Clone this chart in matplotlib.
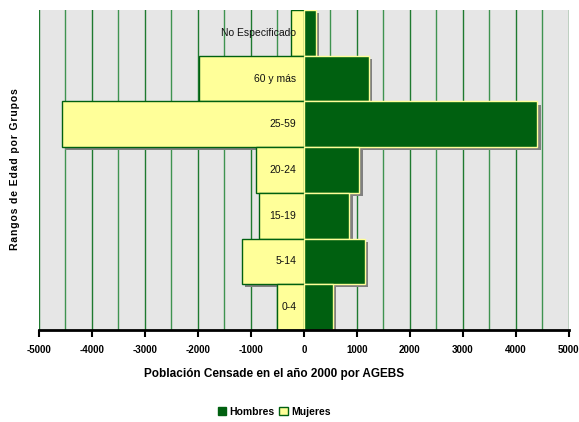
import matplotlib
matplotlib.use("Agg")
import matplotlib.pyplot as plt
import matplotlib.patheffects as pe
from matplotlib.patches import Patch
import numpy as np

# Age groups, bottom to top
grupos = ["0-4", "5-14", "15-19", "20-24", "25-59", "60 y más", "No Especificado"]
hombres = [550, 1160, 860, 1050, 4410, 1230, 230]
mujeres = [510, 1170, 840, 910, 4570, 1970, 250]

ticks = [-5000, -4000, -3000, -2000, -1000, 0, 1000, 2000, 3000, 4000, 5000]

plt.rcParams["font.family"] = ["Liberation Sans Narrow", "Liberation Sans", "DejaVu Sans"]

VERDE = "#006010"
AMARILLO = "#ffff99"
GRID = "#1f7a30"

fig = plt.figure(figsize=(5.79, 4.22), dpi=100)
ax = fig.add_axes([39 / 579, 1 - 330 / 422, (568.7 - 39) / 579, (330 - 10) / 422])
ax.set_facecolor("#e6e6e6")

y = np.arange(len(grupos))
sombra = [pe.SimplePatchShadow(offset=(2.3, -2.3), shadow_rgbFace="#808080", alpha=1.0), pe.Normal()]

# Draw bars from the top group down so lower bars sit over upper shadows
for i in reversed(range(len(grupos))):
    bm = ax.barh(y[i], -mujeres[i], height=1.0, color=AMARILLO, edgecolor=VERDE,
                 linewidth=1.0, zorder=3 + (len(grupos) - i) * 0.1)
    bh = ax.barh(y[i], hombres[i], height=1.0, color=VERDE, edgecolor=AMARILLO,
                 linewidth=1.0, zorder=3 + (len(grupos) - i) * 0.1 + 0.05)
    for b in list(bm) + list(bh):
        b.set_path_effects(sombra)
    ax.text(-140, y[i], grupos[i], ha="right", va="center", fontsize=7.5,
            color="#111111", zorder=10)

ax.set_xlim(-5000, 5000)
ax.set_ylim(-0.5, len(grupos) - 0.5)

for xv in np.arange(-5000, 5001, 500):
    ax.axvline(xv, color=GRID if xv % 1000 == 0 else "#3f9350", linewidth=1.0, zorder=1)

ax.set_xticks(ticks)
ax.set_xticklabels([str(t) for t in ticks], fontsize=7, fontweight="bold")
ax.set_yticks([])
for s in ["top", "left", "right"]:
    ax.spines[s].set_visible(False)
ax.spines["bottom"].set_linewidth(2.0)
ax.spines["bottom"].set_color("black")
ax.spines["bottom"].set_zorder(20)
ax.tick_params(axis="x", direction="out", length=5, width=1.5, pad=6)

fig.text(274 / 579, 1 - 374 / 422, "Población Censade en el año 2000 por AGEBS",
         ha="center", va="center", fontsize=8.5, fontweight="bold")
titulo_y = "\u200a".join("Rangos de Edad por Grupos")
fig.text(15 / 579, 1 - 169 / 422, titulo_y,
         ha="center", va="center", rotation=90, fontsize=7.5, fontweight="bold")

handles = [Patch(facecolor=VERDE, edgecolor=VERDE, label="Hombres"),
           Patch(facecolor=AMARILLO, edgecolor=VERDE, label="Mujeres")]
fig.legend(handles=handles, loc="center", bbox_to_anchor=(274 / 579, 1 - 412 / 422),
           ncol=2, frameon=False, prop={"weight": "bold", "size": 7.5},
           handlelength=0.8, handleheight=0.8, handletextpad=0.3, columnspacing=0.5)

fig.savefig("out.png", dpi=100)
